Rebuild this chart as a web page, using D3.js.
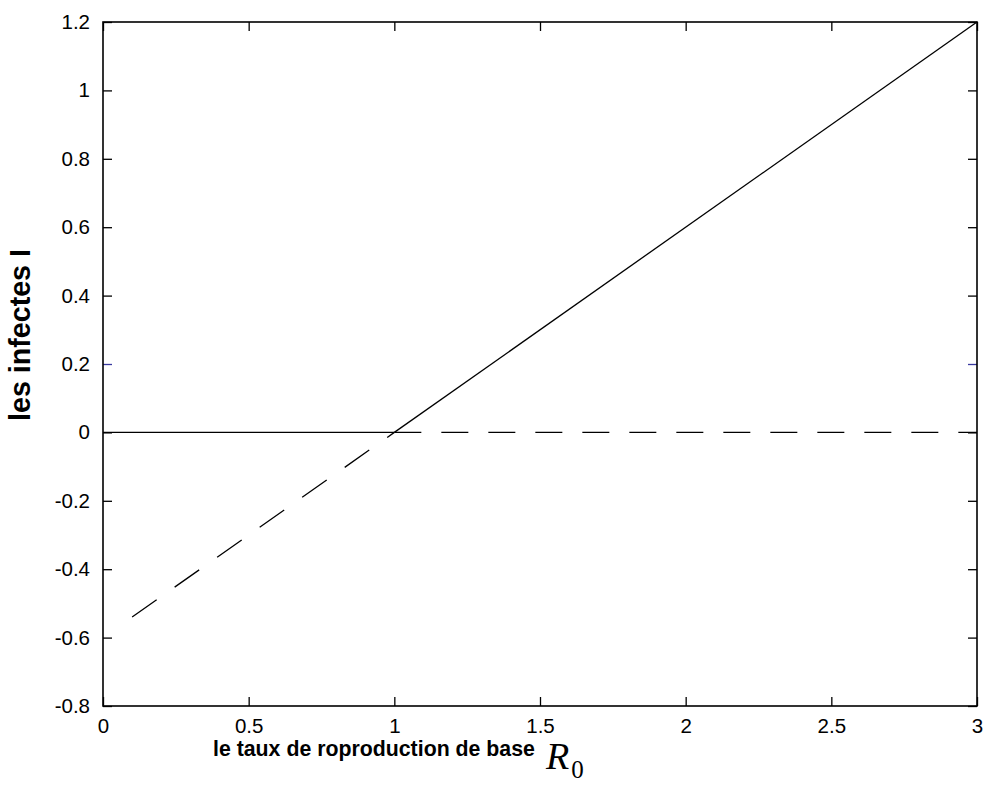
<!DOCTYPE html>
<html><head><meta charset="utf-8">
<script src="https://cdn.jsdelivr.net/npm/d3@7"></script>
<style>html,body{margin:0;padding:0;background:#fff;}</style>
</head><body>
<svg id="chart" width="984" height="796"></svg>
<script>
// Data
const xTicks = [0, 0.5, 1, 1.5, 2, 2.5, 3];
const yTicks = [-0.8, -0.6, -0.4, -0.2, 0, 0.2, 0.4, 0.6, 0.8, 1, 1.2];
// disease-free equilibrium I = 0
const dfeStableR0 = [0, 1];
const dfeStableI = [0, 0];
const dfeUnstableR0 = [1, 3];
const dfeUnstableI = [0, 0];
// endemic equilibrium
const endStableR0 = [1, 3];
const endStableI = [0, 1.2];
const endUnstableR0 = [0.1, 1];
const endUnstableI = [-0.54, 0];

const svg = d3.select("#chart");
const L = 103, R = 977, T = 22, B = 706;
const x = d3.scaleLinear().domain([0, 3]).range([L, R]);
const y = d3.scaleLinear().domain([-0.8, 1.2]).range([B, T]);

svg.append("rect").attr("width", 984).attr("height", 796).attr("fill", "#fff");

const line = d3.line().x(d => x(d[0])).y(d => y(d[1]));
function series(xs, ys, dash) {
  svg.append("path")
    .datum(xs.map((v, i) => [v, ys[i]]))
    .attr("d", line)
    .attr("fill", "none")
    .attr("stroke", "#000")
    .attr("stroke-width", 1.3)
    .attr("stroke-dasharray", dash || null);
}
series(dfeStableR0, dfeStableI);
series(endStableR0, endStableI);
series(dfeUnstableR0, dfeUnstableI, "27,20");
series(endUnstableR0, endUnstableI, "30,22");

const fontTick = "'Liberation Sans', Arial, sans-serif";
const axB = d3.axisBottom(x).tickValues(xTicks).tickSize(-9).tickPadding(12).tickFormat(d3.format("~g"));
const axT = d3.axisTop(x).tickValues(xTicks).tickSize(-9).tickFormat("");
const axL = d3.axisLeft(y).tickValues(yTicks).tickSize(-9).tickPadding(13).tickFormat(d3.format("~g"));
const axR = d3.axisRight(y).tickValues(yTicks).tickSize(-9).tickFormat("");

function styleAxis(g) {
  g.select(".domain").remove();
  g.selectAll(".tick line").attr("stroke", "#000").attr("stroke-width", 1.3);
  g.selectAll(".tick text").attr("fill", "#000").style("font-family", fontTick).style("font-size", "20.5px");
}
svg.append("g").attr("transform", `translate(0,${B})`).call(axB).call(styleAxis);
svg.append("g").attr("transform", `translate(0,${T})`).call(axT).call(styleAxis);
svg.append("g").attr("transform", `translate(${L},0)`).call(axL).call(styleAxis);
svg.append("g").attr("transform", `translate(${R},0)`).call(axR).call(styleAxis);
svg.selectAll(".tick").filter(d => d === 0.2).select("line").attr("stroke", "#3a3aa0");
svg.selectAll(".tick text").text(function(){ return this.textContent.replace("\u2212", "-"); });

svg.append("rect").attr("x", L).attr("y", T).attr("width", R - L).attr("height", B - T)
  .attr("fill", "none").attr("stroke", "#000").attr("stroke-width", 1.6);

// labels, sized to the widths seen in the reference
function fit(sel, target) {
  const w = sel.node().getComputedTextLength();
  const fs = parseFloat(sel.style("font-size"));
  sel.style("font-size", (fs * target / w).toFixed(2) + "px");
}
const xl = svg.append("text").attr("x", 213).attr("y", 756)
  .style("font-family", "'Liberation Sans', Arial, sans-serif").style("font-weight", "bold").style("font-size", "20px")
  .text("le taux de roproduction de base");
fit(xl, 322);
const r0 = svg.append("text").attr("x", 546).attr("y", 769)
  .style("font-family", "'Liberation Serif', 'Times New Roman', serif").style("font-style", "italic").style("font-size", "38px");
r0.append("tspan").text("R");
r0.append("tspan").attr("dx", 2).attr("dy", 9).style("font-style", "normal").style("font-size", "25px").text("0");

const yl = svg.append("text").attr("transform", "translate(30,335) rotate(-90)").attr("text-anchor", "middle")
  .style("font-family", "'Liberation Sans', Arial, sans-serif").style("font-weight", "bold").style("font-size", "20px")
  .text("les infectes I");
fit(yl, 172);
</script>
</body></html>
